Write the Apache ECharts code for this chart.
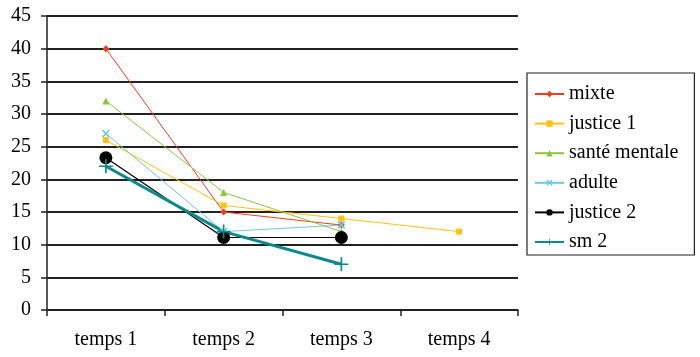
<!DOCTYPE html>
<html><head><meta charset="utf-8">
<script src="https://cdn.jsdelivr.net/npm/echarts@6/dist/echarts.min.js"></script>
<style>html,body{margin:0;padding:0;background:#fff}#c{width:700px;height:357px}</style>
</head><body><div id="c"></div>
<script>
const categories = ['temps 1', 'temps 2', 'temps 3', 'temps 4'];
const mixte = [40, 15, 13, null];
const justice1 = [26, 16, 14, 12];
const santeMentale = [32, 18, 12, null];
const adulte = [27, 12, 13, null];
const justice2 = [23.3, 11.1, 11.1, null];
const sm2 = [22, 12, 7, null];
const yTicks = [0, 5, 10, 15, 20, 25, 30, 35, 40, 45];

const FONT = "'Liberation Serif','Times New Roman',serif";
const xSym = 'path://M1.5,0L5,3.5L8.5,0L10,1.5L6.5,5L10,8.5L8.5,10L5,6.5L1.5,10L0,8.5L3.5,5L0,1.5Z';
const plusSym = 'path://M4.4,0H5.6V4.4H10V5.6H5.6V10H4.4V5.6H0V4.4H4.4Z';

function s(name, data, color, symbol, size, width) {
  return {
    name, type: 'line', data, symbol, symbolSize: size,
    connectNulls: false,
    lineStyle: { color, width },
    itemStyle: { color },
    animation: false
  };
}

const chart = echarts.init(document.getElementById('c'), null, { renderer: 'canvas' });
chart.setOption({
  animation: false,
  backgroundColor: '#fff',
  grid: { left: 47, right: 182, top: 16, bottom: 47 },
  legend: {
    orient: 'vertical', left: 527, top: 73,
    borderColor: '#222', borderWidth: 1.2,
    padding: [11, 16, 3, 7],
    itemWidth: 29, itemHeight: 8, itemGap: 9.6,
    textStyle: { fontFamily: FONT, fontSize: 20, color: '#000' },
    data: ['mixte', 'justice 1', 'santé mentale', 'adulte', 'justice 2', 'sm 2']
  },
  xAxis: {
    type: 'category', data: categories, boundaryGap: true,
    axisLine: { lineStyle: { color: '#222', width: 1.5 } },
    axisTick: { show: true, length: 6, lineStyle: { color: '#222', width: 1.5 } },
    axisLabel: { fontFamily: FONT, fontSize: 20, color: '#000', margin: 20 }
  },
  yAxis: {
    type: 'value', min: 0, max: 45, interval: 5,
    axisLine: { show: true, lineStyle: { color: '#222', width: 1.5 } },
    axisTick: { show: true, length: 6, lineStyle: { color: '#222', width: 1.5 } },
    axisLabel: { fontFamily: FONT, fontSize: 20, color: '#000', margin: 16,
      formatter: v => yTicks.includes(v) ? String(v) : '' },
    splitLine: { lineStyle: { color: '#222', width: 1.8 } }
  },
  series: [
    s('mixte', mixte, '#f03c1e', 'diamond', 7, 1),
    s('justice 1', justice1, '#ffc20e', 'rect', 6, 1),
    s('santé mentale', santeMentale, '#8cc63f', 'triangle', 7, 1),
    s('adulte', adulte, '#6fc8dd', xSym, 8, 1),
    s('justice 2', justice2, '#000000', 'circle', 13, 1.2),
    s('sm 2', sm2, '#0a8a8a', plusSym, 14, 3)
  ]
});
</script></body></html>
